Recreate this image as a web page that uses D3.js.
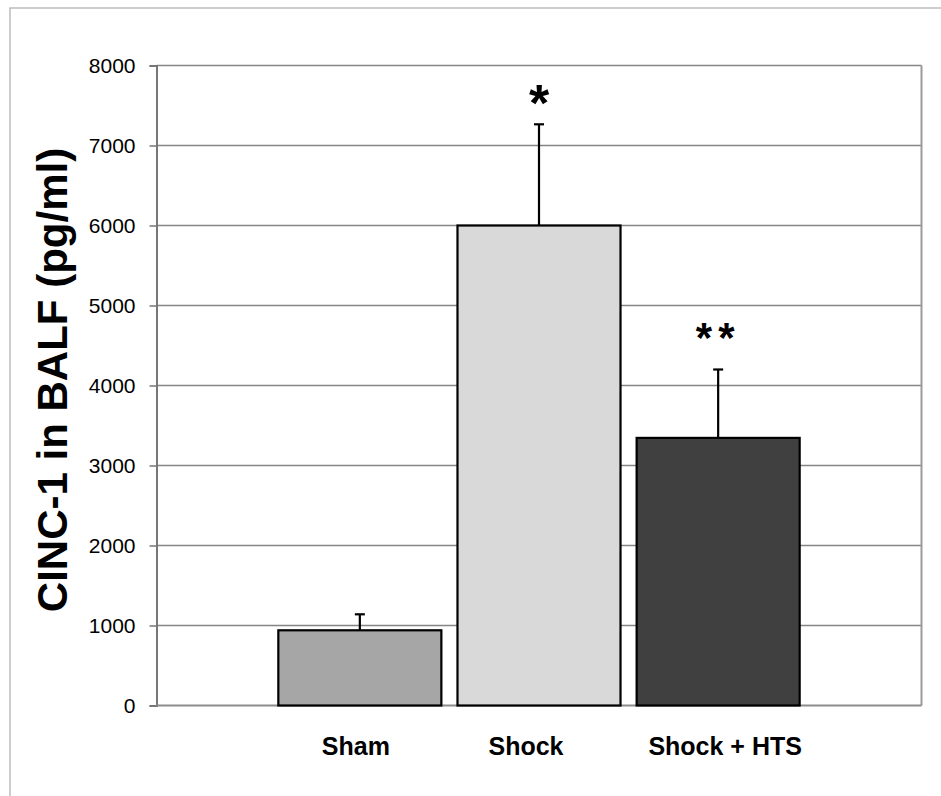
<!DOCTYPE html>
<html>
<head>
<meta charset="utf-8">
<script src="https://cdn.jsdelivr.net/npm/d3@7"></script>
<style>
    body { margin: 0; background: #fff; }
    svg { display: block; font-family: "Liberation Sans", Arial, sans-serif; }
</style>
</head>
<body>
<div id="chart"></div>
<script>
// Data
const categories = ["Sham", "Shock", "Shock + HTS"];
const means = [940, 6000, 3345];
const errors = [200, 1265, 855];
const stars = ["", "*", "**"];
const barColors = ["#a6a6a6", "#d9d9d9", "#404040"];
const yTicks = [0, 1000, 2000, 3000, 4000, 5000, 6000, 7000, 8000];

const width = 941;
const height = 796;
const plot = { left: 156.5, right: 921.5, top: 65.5, bottom: 705.5 };

const svg = d3.select("#chart")
              .append("svg")
              .attr("width", width)
              .attr("height", height);

// outer frame (only left and top edges are in view)
svg.append("rect")
   .attr("x", 10)
   .attr("y", 8)
   .attr("width", 960)
   .attr("height", 820)
   .attr("fill", "none")
   .attr("stroke", "#bdbdbd")
   .attr("stroke-width", 1.5);

const yScale = d3.scaleLinear()
                 .domain([0, 8000])
                 .range([plot.bottom, plot.top]);

const xScale = d3.scaleBand()
                 .domain(categories)
                 .range([plot.left, plot.right])
                 .paddingInner(0.09)
                 .paddingOuter(0.68);

// gridlines
svg.append("g")
   .selectAll("line")
   .data(yTicks.slice(1))
   .enter()
   .append("line")
   .attr("x1", plot.left)
   .attr("x2", plot.right)
   .attr("y1", d => yScale(d))
   .attr("y2", d => yScale(d))
   .attr("stroke", "#858585")
   .attr("stroke-width", 1.5);

// right edge of the plot area
svg.append("line")
   .attr("x1", plot.right)
   .attr("x2", plot.right)
   .attr("y1", plot.top)
   .attr("y2", plot.bottom)
   .attr("stroke", "#9a9a9a")
   .attr("stroke-width", 2);

// y axis
const yAxis = d3.axisLeft(yScale)
                .tickValues(yTicks)
                .tickSize(7)
                .tickPadding(14)
                .tickFormat(d3.format("d"));

const yAxisG = svg.append("g")
                  .attr("transform", `translate(${plot.left},0)`)
                  .call(yAxis);
yAxisG.select(".domain")
      .attr("stroke", "#777")
      .attr("stroke-width", 2);
yAxisG.selectAll(".tick line")
      .attr("stroke", "#777")
      .attr("stroke-width", 1.5);
yAxisG.selectAll(".tick text")
      .attr("fill", "#000")
      .style("font-size", "21px");

// bottom axis line
svg.append("line")
   .attr("x1", plot.left)
   .attr("x2", plot.right)
   .attr("y1", plot.bottom)
   .attr("y2", plot.bottom)
   .attr("stroke", "#8c8c8c")
   .attr("stroke-width", 2);

// y title
svg.append("text")
   .attr("transform", `translate(67,380) rotate(-90)`)
   .attr("text-anchor", "middle")
   .style("font-size", "42px")
   .style("font-weight", "bold")
   .text("CINC-1 in BALF (pg/ml)");

// bars
svg.append("g")
   .selectAll("rect")
   .data(categories)
   .enter()
   .append("rect")
   .attr("x", d => xScale(d))
   .attr("y", (d, i) => yScale(means[i]))
   .attr("width", xScale.bandwidth())
   .attr("height", (d, i) => yScale(0) - yScale(means[i]))
   .attr("fill", (d, i) => barColors[i])
   .attr("stroke", "#000")
   .attr("stroke-width", 2.2);

// error bars (upper only)
const errG = svg.append("g").attr("stroke", "#000").attr("stroke-width", 2.2);
categories.forEach((c, i) => {
    const cx = xScale(c) + xScale.bandwidth() / 2;
    errG.append("line")
        .attr("x1", cx).attr("x2", cx)
        .attr("y1", yScale(means[i]))
        .attr("y2", yScale(means[i] + errors[i]));
    errG.append("line")
        .attr("x1", cx - 5).attr("x2", cx + 5)
        .attr("y1", yScale(means[i] + errors[i]))
        .attr("y2", yScale(means[i] + errors[i]));
});

// significance markers
svg.append("g")
   .selectAll("text")
   .data(categories)
   .enter()
   .append("text")
   .attr("x", d => xScale(d) + xScale.bandwidth() / 2)
   .attr("y", (d, i) => yScale(means[i] + errors[i]) - (i === 1 ? 3 : 18))
   .attr("text-anchor", "middle")
   .style("font-size", (d, i) => i === 1 ? "52px" : "42px")
   .style("font-weight", "bold")
   .style("letter-spacing", (d, i) => i === 2 ? "6px" : "0px")
   .text((d, i) => stars[i]);

// category labels (Excel puts them slightly off the bar centres)
const labelNudge = [-4, -13, 7];
svg.append("g")
   .selectAll("text")
   .data(categories)
   .enter()
   .append("text")
   .attr("x", (d, i) => xScale(d) + xScale.bandwidth() / 2 + labelNudge[i])
   .attr("y", 755)
   .attr("text-anchor", "middle")
   .style("font-size", "25px")
   .style("font-weight", "bold")
   .text(d => d);
</script>
</body>
</html>
